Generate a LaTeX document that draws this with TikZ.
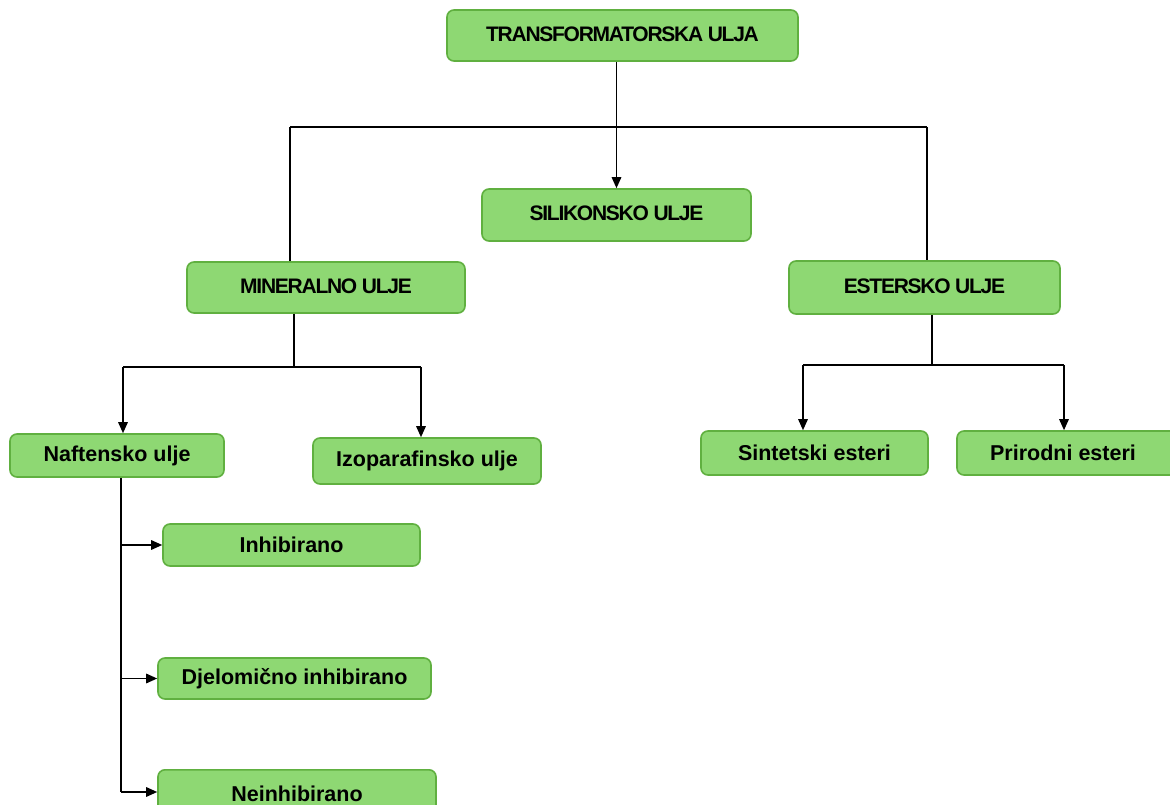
\documentclass[tikz,border=0pt]{standalone}
\usepackage{fontspec}
\setmainfont{Liberation Sans}
\newfontfamily\capsfont[LetterSpace=-6]{Liberation Sans}
\usetikzlibrary{arrows.meta}
\definecolor{boxfill}{RGB}{142,216,115}
\definecolor{boxdraw}{RGB}{96,176,64}
\newcommand{\uptext}[1]{\raisebox{3pt}{#1}}
\tikzset{
  box/.style={draw=boxdraw, fill=boxfill, line width=1.6pt, rounded corners=7pt,
    inner sep=0pt, font=\fontsize{21.5}{25}\selectfont\bfseries},
  capsbox/.style={box, font=\capsfont\fontsize{21}{25}\selectfont\bfseries},
  conn/.style={line width=1.5pt, black},
  arr/.style={conn, -{Triangle[length=11pt,width=9.5pt]}}
}
\begin{document}
\begin{tikzpicture}[x=1pt,y=-1pt]
\useasboundingbox (0,0) rectangle (1170,805);
\fill[white] (0,0) rectangle (1170,805);
% nodes
\node[capsbox, minimum width=351pt, minimum height=51pt] (top) at (622.5,35.5) {\uptext{TRANSFORMATORSKA ULJA}};
\node[capsbox, minimum width=269pt, minimum height=52pt] (sil) at (616.5,215) {\uptext{SILIKONSKO ULJE}};
\node[capsbox, minimum width=278pt, minimum height=51pt] (min) at (326,287.5) {\uptext{MINERALNO ULJE}};
\node[capsbox, minimum width=271pt, minimum height=53pt] (est) at (924.5,287.5) {\uptext{ESTERSKO ULJE}};
\node[box, minimum width=214pt, minimum height=43pt] (naf) at (117,455.5) {Naftensko ulje};
\node[box, minimum width=228pt, minimum height=46pt] (izo) at (427,461) {Izoparafinsko ulje};
\node[box, minimum width=227pt, minimum height=44pt] (sin) at (814.5,453) {Sintetski esteri};
\node[box, minimum width=226pt, minimum height=44pt] (pri) at (1070,453) {\hspace*{-14pt}Prirodni esteri};
\node[box, minimum width=257pt, minimum height=42pt] (inh) at (291.5,545) {Inhibirano};
\node[box, minimum width=273pt, minimum height=41pt] (dje) at (294.5,678.5) {Djelomi\v{c}no inhibirano};
\node[box, minimum width=278pt, minimum height=48pt, anchor=north] (nei) at (297,769) {\raisebox{-1pt}{Neinhibirano}};
% top level connectors
\coordinate (h1) at (290,127);
\coordinate (h2) at (927,127);
\draw[conn] (h1) -- (h2);
\draw[arr] (sil.north |- top.south) -- (sil.north);
\draw[conn] (h1) -- (h1 |- min.north);
\draw[conn] (h2) -- (h2 |- est.north);
% mineralno branch
\coordinate (m0) at (294,367);
\coordinate (m1) at (123,367);
\coordinate (m2) at (421,367);
\draw[conn] (m0 |- min.south) -- (m0);
\draw[conn] (m1) -- (m2);
\draw[arr] (m1) -- (m1 |- naf.north);
\draw[arr] (m2) -- (m2 |- izo.north);
% estersko branch
\coordinate (e0) at (932,365);
\coordinate (e1) at (803,365);
\coordinate (e2) at (1064,365);
\draw[conn] (e0 |- est.south) -- (e0);
\draw[conn] (e1) -- (e2);
\draw[arr] (e1) -- (e1 |- sin.north);
\draw[arr] (e2) -- (e2 |- pri.north);
% naftensko branch
\coordinate (n0) at (121,792);
\draw[conn] (n0 |- naf.south) -- (n0);
\draw[arr] (n0 |- inh.west) -- (inh.west);
\draw[arr] (n0 |- dje.west) -- (dje.west);
\draw[arr] (n0) -- (n0 -| nei.west);
\end{tikzpicture}
\end{document}
